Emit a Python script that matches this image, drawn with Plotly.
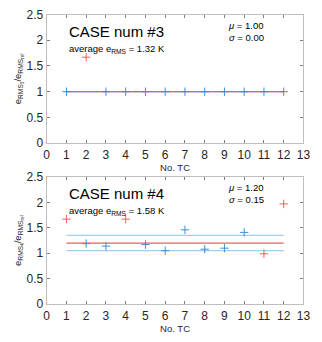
import plotly.graph_objects as go
from plotly.subplots import make_subplots

tc = list(range(1, 13))

# case 3
case3_vals = [1.00, 1.67, 1.00, 1.00, 1.00, 1.00, 1.00, 1.00, 1.00, 1.00, 1.00, 1.00]
case3_out = [False, True, False, False, False, False, False, False, False, False, False, False]
case3_mu = 1.00
case3_sigma = 0.00
case3_avg = 1.32

# case 4
case4_vals = [1.67, 1.19, 1.14, 1.67, 1.17, 1.05, 1.46, 1.08, 1.10, 1.41, 0.99, 1.97]
case4_out = [True, False, False, True, False, False, False, False, False, False, True, True]
case4_mu = 1.20
case4_sigma = 0.15
case4_avg = 1.58

red = "#ff5a5a"
blue = "#3d8fd6"
lightblue = "#9fd0f2"
font = "Liberation Sans, Arial, sans-serif"

fig = make_subplots(rows=2, cols=1)

cases = [(3, case3_vals, case3_out, case3_mu, case3_sigma, case3_avg),
         (4, case4_vals, case4_out, case4_mu, case4_sigma, case4_avg)]

for row, (num, vals, out, mu, sigma, avg) in enumerate(cases, start=1):
    xs = [tc[0], tc[-1]]
    for lvl in [mu - sigma, mu + sigma]:
        fig.add_trace(go.Scatter(x=xs, y=[lvl, lvl], mode="lines",
                                 line=dict(color=lightblue, width=1.2)), row=row, col=1)
    fig.add_trace(go.Scatter(x=xs, y=[mu, mu], mode="lines",
                             line=dict(color=red, width=1.2)), row=row, col=1)
    bx = [x for x, v, o in zip(tc, vals, out) if not o]
    by = [v for v, o in zip(vals, out) if not o]
    rx = [x for x, v, o in zip(tc, vals, out) if o]
    ry = [v for v, o in zip(vals, out) if o]
    fig.add_trace(go.Scatter(x=bx, y=by, mode="markers",
                             marker=dict(symbol="cross-thin", size=6,
                                         line=dict(color=blue, width=1))), row=row, col=1)
    fig.add_trace(go.Scatter(x=rx, y=ry, mode="markers",
                             marker=dict(symbol="cross-thin", size=6,
                                         line=dict(color=red, width=1))), row=row, col=1)

    xr = "x" if row == 1 else "x2"
    yr = "y" if row == 1 else "y2"
    fig.add_annotation(text=f"CASE num #{num}", xref=xr + " domain", yref=yr + " domain",
                       x=0.08, y=0.87, xanchor="left", yanchor="middle", showarrow=False,
                       font=dict(size=15, color="black", family=font))
    fig.add_annotation(text=f"average e<sub>RMS</sub> = {avg:.2f} K",
                       xref=xr + " domain", yref=yr + " domain",
                       x=0.08, y=0.73, xanchor="left", yanchor="middle", showarrow=False,
                       font=dict(size=9.5, color="black", family=font))
    fig.add_annotation(text=f"<i>μ</i> = {mu:.2f}<br><i>σ</i> = {sigma:.2f}",
                       xref=xr + " domain", yref=yr + " domain",
                       x=0.70, y=0.87, xanchor="left", yanchor="middle", showarrow=False,
                       align="left", font=dict(size=9.5, color="black", family=font))

    fig.update_xaxes(row=row, col=1, range=[0, 13], dtick=1, ticks="inside", ticklen=3,
                     tickcolor="#7f7f7f", showline=True, linecolor="#bfbfbf", mirror="ticks",
                     showgrid=False, zeroline=False,
                     tickfont=dict(size=12, color="#262626", family=font),
                     title=dict(text="No. TC", standoff=2,
                                font=dict(size=9.5, color="#262626", family=font)))
    fig.update_yaxes(row=row, col=1, range=[0, 2.5], dtick=0.5, ticks="inside", ticklen=3,
                     tickcolor="#7f7f7f", showline=True, linecolor="#bfbfbf", mirror="ticks",
                     showgrid=False, zeroline=False,
                     tickfont=dict(size=12, color="#262626", family=font),
                     title=dict(text=f"e<sub>RMS<sub>{num}</sub></sub>/e<sub>RMS<sub>ref</sub></sub>",
                                standoff=3,
                                font=dict(size=9.5, color="#262626", family=font)))

fig.update_layout(
    width=322, height=342,
    margin=dict(l=0, r=0, t=0, b=0),
    showlegend=False,
    plot_bgcolor="white",
    paper_bgcolor="white",
    xaxis=dict(domain=[0.140, 0.963]),
    yaxis=dict(domain=[0.585, 0.977]),
    xaxis2=dict(domain=[0.140, 0.963]),
    yaxis2=dict(domain=[0.094, 0.482]),
)

# the page body has a default 8px margin, drop it so the figure fills the window
fig.write_html("out.html", config={"displayModeBar": False},
               post_script="document.body.style.margin='0';")
